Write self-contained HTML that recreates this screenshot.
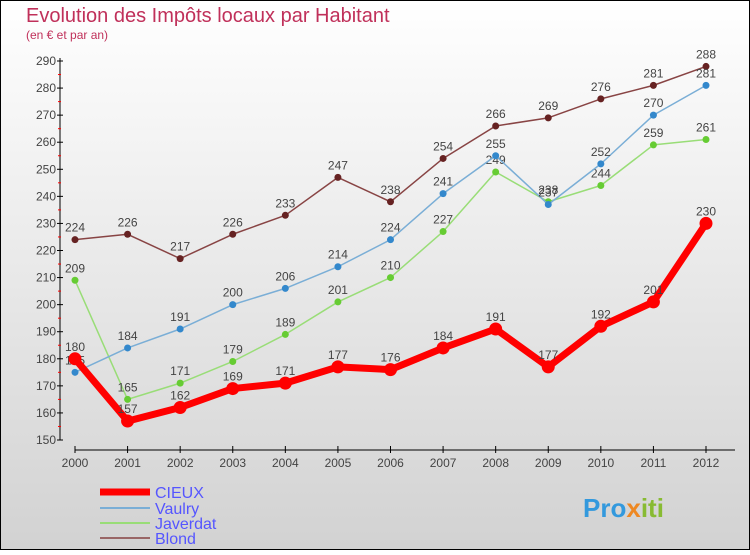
<!DOCTYPE html>
<html><head><meta charset="utf-8"><style>
body{margin:0}
#c{width:750px;height:550px;position:relative;font-family:"Liberation Sans",sans-serif}
</style></head><body>
<div id="c">
<svg id="s" width="750" height="550" xmlns="http://www.w3.org/2000/svg">
<defs><linearGradient id="bg" x1="0" y1="0" x2="0" y2="1"><stop offset="0" stop-color="#ffffff"/><stop offset="1" stop-color="#d2d2d2"/></linearGradient></defs>
<rect x="0.5" y="0.5" width="749" height="549" fill="url(#bg)" stroke="#000"/>
<text x="26" y="22" font-size="20" fill="#c0305a">Evolution des Impôts locaux par Habitant</text>
<text x="26" y="39" font-size="12" fill="#c0305a">(en € et par an)</text>
<g id="axes"></g><g id="series"></g>
<g id="legend">
<line x1="100" y1="492" x2="150" y2="492" stroke="#f00" stroke-width="7"/>
<text x="155" y="498" font-size="16" fill="#5555ff">CIEUX</text>
<line x1="100" y1="508" x2="150" y2="508" stroke="#7aaed6" stroke-width="2"/>
<text x="155" y="514" font-size="16" fill="#5555ff">Vaulry</text>
<line x1="100" y1="523" x2="150" y2="523" stroke="#99dd77" stroke-width="2"/>
<text x="155" y="529" font-size="16" fill="#5555ff">Javerdat</text>
<line x1="100" y1="538" x2="150" y2="538" stroke="#996666" stroke-width="2"/>
<text x="155" y="544" font-size="16" fill="#5555ff">Blond</text>
</g>
<text x="583" y="517" font-size="26" font-weight="bold" fill="#3399dd">Pro<tspan fill="#ee8822">x</tspan><tspan fill="#88bb33">iti</tspan></text>
</svg></div>
<script>
const years=["2000","2001","2002","2003","2004","2005","2006","2007","2008","2009","2010","2011","2012"];
const yTicks=[150,160,170,180,190,200,210,220,230,240,250,260,270,280,290];
const cieux=[180,157,162,169,171,177,176,184,191,177,192,201,230];
const vaulry=[175,184,191,200,206,214,224,241,255,237,252,270,281];
const javerdat=[209,165,171,179,189,201,210,227,249,238,244,259,261];
const blond=[224,226,217,226,233,247,238,254,266,269,276,281,288];
const NS="http://www.w3.org/2000/svg";
const X=i=>75+i*(706-75)/12;
const Y=v=>440-(v-150)*(440-61)/140;
function mk(t,a,p){const e=document.createElementNS(NS,t);for(const k in a)e.setAttribute(k,a[k]);p.appendChild(e);return e;}
const ax=document.getElementById('axes');
let l=mk('line',{x1:60,y1:58,x2:60,y2:440,stroke:'#000'},ax);


l=mk('line',{x1:75,y1:450,x2:735,y2:450,stroke:'#000'},ax);


yTicks.forEach(v=>{
 mk('line',{x1:57,y1:Y(v),x2:63,y2:Y(v),stroke:'#000'},ax);
 if(v<290)mk('line',{x1:58,y1:Y(v+5),x2:61,y2:Y(v+5),stroke:'#f00'},ax);
 const t=mk('text',{x:56,y:Y(v)+4,'font-size':12,fill:'#444','text-anchor':'end'},ax);t.textContent=v;
 
 
});
years.forEach((y,i)=>{
 mk('line',{x1:X(i),y1:446,x2:X(i),y2:453,stroke:'#000'},ax);
 const t=mk('text',{x:X(i),y:467,'font-size':12,fill:'#444','text-anchor':'middle'},ax);t.textContent=y;
 
 
});
const sg=document.getElementById('series');
function draw(d,name,col,w,r,dot){
 const g=mk('g',{},sg);
 
 
 mk('polyline',{points:d.map((v,i)=>X(i)+','+Y(v)).join(' '),fill:'none',stroke:col,'stroke-width':w,'stroke-linejoin':'round'},g);
 d.forEach((v,i)=>{
  const c=mk('circle',{cx:X(i),cy:Y(v),r:r,fill:dot},g);
  
  
  const t=mk('text',{x:X(i),y:Y(v)-8,'font-size':12,fill:'#444','text-anchor':'middle'},g);t.textContent=v;
  
  
 });
}
draw(blond,'blond','#884444',1.5,3.5,'#662222');
draw(javerdat,'javerdat','#99dd77',1.5,3.5,'#66cc33');
draw(vaulry,'vaulry','#7aaed6',1.5,3.5,'#3388cc');
draw(cieux,'cieux','#f00',7,6.5,'#f00');
</script>
</body></html>
